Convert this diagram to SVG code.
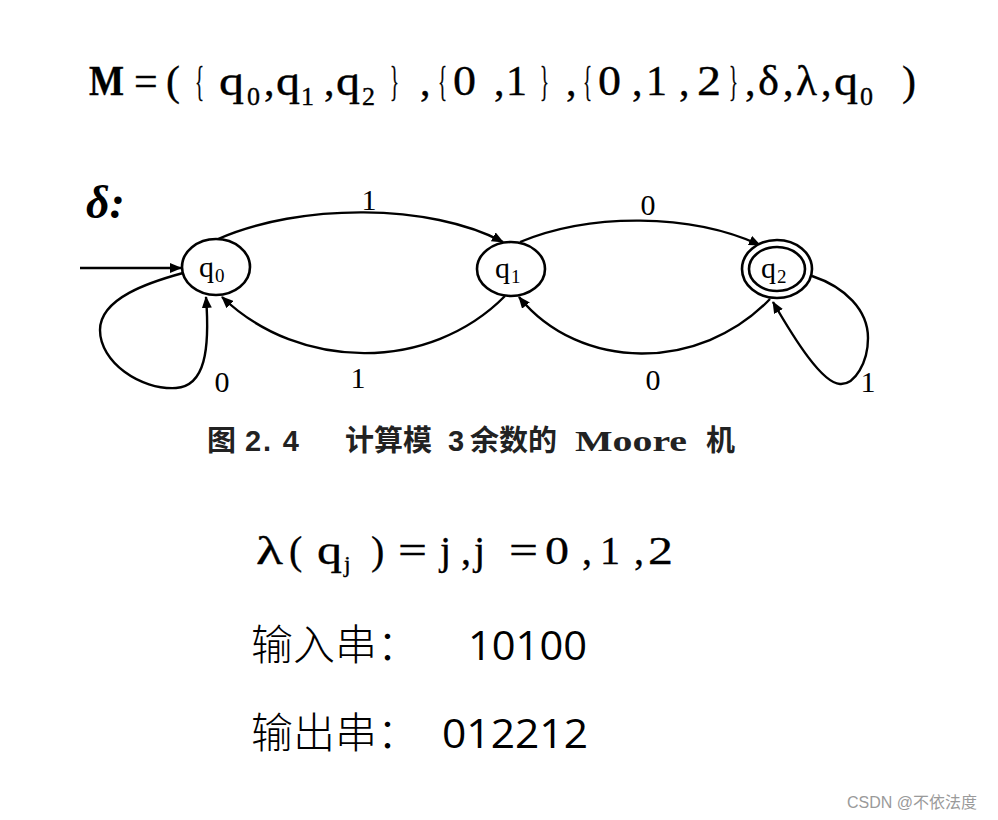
<svg xmlns="http://www.w3.org/2000/svg" width="998" height="820" viewBox="0 0 998 820">
<defs>
<marker id="ah" viewBox="0 0 12 10" refX="11" refY="5" markerWidth="12" markerHeight="10" markerUnits="userSpaceOnUse" orient="auto">
<path d="M0,0 L12,5 L0,10 Z" fill="#000"/>
</marker>
</defs>
<style>
.ser{font-family:"Liberation Serif","Times New Roman",serif;fill:#000}
.t{font-size:42px;stroke:#000;stroke-width:0.35}
.sub{font-size:26px}
.nl{font-size:30px}
.ns{font-size:19px}
.el{font-family:"Liberation Serif",serif;font-size:30px;fill:#000}
.node{fill:#fff;stroke:#000;stroke-width:2.6}
.edge{fill:none;stroke:#000;stroke-width:2.4;marker-end:url(#ah)}
.cjk{font-family:"Noto Sans CJK SC","Noto Sans",sans-serif;font-weight:300;fill:#000}
.num{font-family:"Open Sans","Liberation Sans","Noto Sans CJK SC",sans-serif;fill:#000}
</style>
<rect width="998" height="820" fill="#fff"/>

<g id="title">
<text class="ser t" y="95"><tspan x="89" font-weight="bold" textLength="35" lengthAdjust="spacingAndGlyphs">M</tspan><tspan x="134">=</tspan><tspan x="166">(</tspan><tspan x="195" textLength="9" lengthAdjust="spacingAndGlyphs">{</tspan><tspan x="219" textLength="25" lengthAdjust="spacingAndGlyphs">q</tspan><tspan x="247" dy="10" class="sub">0</tspan><tspan x="264" dy="-10">,</tspan><tspan x="276" textLength="24" lengthAdjust="spacingAndGlyphs">q</tspan><tspan x="301" dy="10" class="sub">1</tspan><tspan x="324" dy="-10">,</tspan><tspan x="336" textLength="24" lengthAdjust="spacingAndGlyphs">q</tspan><tspan x="362" dy="10" class="sub">2</tspan><tspan x="390" dy="-10" textLength="9" lengthAdjust="spacingAndGlyphs">}</tspan><tspan x="420">,</tspan><tspan x="438" textLength="9" lengthAdjust="spacingAndGlyphs">{</tspan><tspan x="453" textLength="23" lengthAdjust="spacingAndGlyphs">0</tspan><tspan x="494">,</tspan><tspan x="506">1</tspan><tspan x="540" textLength="9" lengthAdjust="spacingAndGlyphs">}</tspan><tspan x="566">,</tspan><tspan x="583" textLength="9" lengthAdjust="spacingAndGlyphs">{</tspan><tspan x="598" textLength="23" lengthAdjust="spacingAndGlyphs">0</tspan><tspan x="632">,</tspan><tspan x="646">1</tspan><tspan x="679">,</tspan><tspan x="697" textLength="24" lengthAdjust="spacingAndGlyphs">2</tspan><tspan x="729" textLength="9" lengthAdjust="spacingAndGlyphs">}</tspan><tspan x="745">,</tspan><tspan x="758" textLength="21" lengthAdjust="spacingAndGlyphs">δ</tspan><tspan x="783">,</tspan><tspan x="796" textLength="21" lengthAdjust="spacingAndGlyphs">λ</tspan><tspan x="821">,</tspan><tspan x="834" textLength="24" lengthAdjust="spacingAndGlyphs">q</tspan><tspan x="860" dy="10" class="sub">0</tspan><tspan x="902" dy="-10">)</tspan></text>
</g>

<g id="delta-label">
<text x="86" y="218" font-family="Liberation Serif,serif" font-size="46" font-weight="bold" font-style="italic">δ:</text>
</g>

<g id="edges">
<path class="edge" d="M80,268 L181,268"/>
<path class="edge" d="M218,239 C300,203 430,203 503,242"/>
<path class="edge" d="M520,242 C590,213 690,213 760,245"/>
<path class="edge" d="M505,296 C430,372 300,372 222,297"/>
<path class="edge" d="M770,299 C700,372 580,372 519,297"/>
<path class="edge" d="M183,273 C150,282 100,298 100,330 C100,362 140,390 176,388 C205,386 210,350 206,297"/>
<path class="edge" d="M812,276 C845,287 868,310 868,338 C868,362 855,385 840,384 C822,383 795,340 773,302"/>
<text class="el" x="369" y="210" text-anchor="middle">1</text>
<text class="el" x="648" y="215" text-anchor="middle">0</text>
<text class="el" x="358" y="388" text-anchor="middle">1</text>
<text class="el" x="653" y="390" text-anchor="middle">0</text>
<text class="el" x="222" y="392" text-anchor="middle">0</text>
<text class="el" x="868" y="392" text-anchor="middle">1</text>
</g>

<g id="q0">
<ellipse class="node" cx="216" cy="267" rx="34" ry="28"/>
<text class="ser" y="277"><tspan x="199" class="nl">q</tspan><tspan x="215" dy="5" class="ns">0</tspan></text>
</g>
<g id="q1">
<ellipse class="node" cx="511" cy="269" rx="34" ry="27"/>
<text class="ser" y="278"><tspan x="495" class="nl">q</tspan><tspan x="511" dy="5" class="ns">1</tspan></text>
</g>
<g id="q2">
<ellipse class="node" cx="777" cy="269" rx="35" ry="29"/>
<ellipse class="node" cx="777" cy="269" rx="28" ry="22" stroke-width="2"/>
<text class="ser" y="278"><tspan x="761" class="nl">q</tspan><tspan x="777" dy="5" class="ns">2</tspan></text>
</g>

<g id="caption">
<text y="451" font-family="Noto Sans CJK SC,sans-serif" font-size="29" font-weight="bold" fill="#222"><tspan x="207">图</tspan><tspan x="245" font-family="Liberation Sans,sans-serif" textLength="54" lengthAdjust="spacing">2. 4</tspan><tspan x="345">计算模</tspan><tspan x="448" font-family="Liberation Sans,sans-serif">3</tspan><tspan x="470">余数的</tspan><tspan x="575" font-family="Liberation Serif,serif" textLength="112" lengthAdjust="spacingAndGlyphs">Moore</tspan><tspan x="706">机</tspan></text>
</g>

<g id="lambda">
<text class="ser" font-size="40" stroke="#000" stroke-width="0.3" y="564"><tspan x="256" textLength="27" lengthAdjust="spacingAndGlyphs">λ</tspan><tspan x="289">(</tspan><tspan x="317" textLength="25" lengthAdjust="spacingAndGlyphs">q</tspan><tspan x="344" dy="8" font-size="24">j</tspan><tspan x="371" dy="-8">)</tspan><tspan x="398" textLength="29" lengthAdjust="spacingAndGlyphs">=</tspan><tspan x="440">j</tspan><tspan x="461">,</tspan><tspan x="474">j</tspan><tspan x="509" textLength="29" lengthAdjust="spacingAndGlyphs">=</tspan><tspan x="545" textLength="24" lengthAdjust="spacingAndGlyphs">0</tspan><tspan x="582">,</tspan><tspan x="600">1</tspan><tspan x="634">,</tspan><tspan x="648" textLength="25" lengthAdjust="spacingAndGlyphs">2</tspan></text>
</g>

<g id="input">
<text class="cjk" x="251" y="660" font-size="42">输入串：</text>
<text class="num" x="468" y="660" font-size="40" textLength="119" lengthAdjust="spacingAndGlyphs">10100</text>
</g>
<g id="output">
<text class="cjk" x="251" y="748" font-size="42">输出串：</text>
<text class="num" x="442" y="748" font-size="40" textLength="146" lengthAdjust="spacingAndGlyphs">012212</text>
</g>

<g id="watermark">
<text x="847" y="808" font-family="Liberation Sans,Noto Sans CJK SC,sans-serif" font-size="16" fill="#9a9a9a">CSDN @不依法度</text>
</g>
</svg>
